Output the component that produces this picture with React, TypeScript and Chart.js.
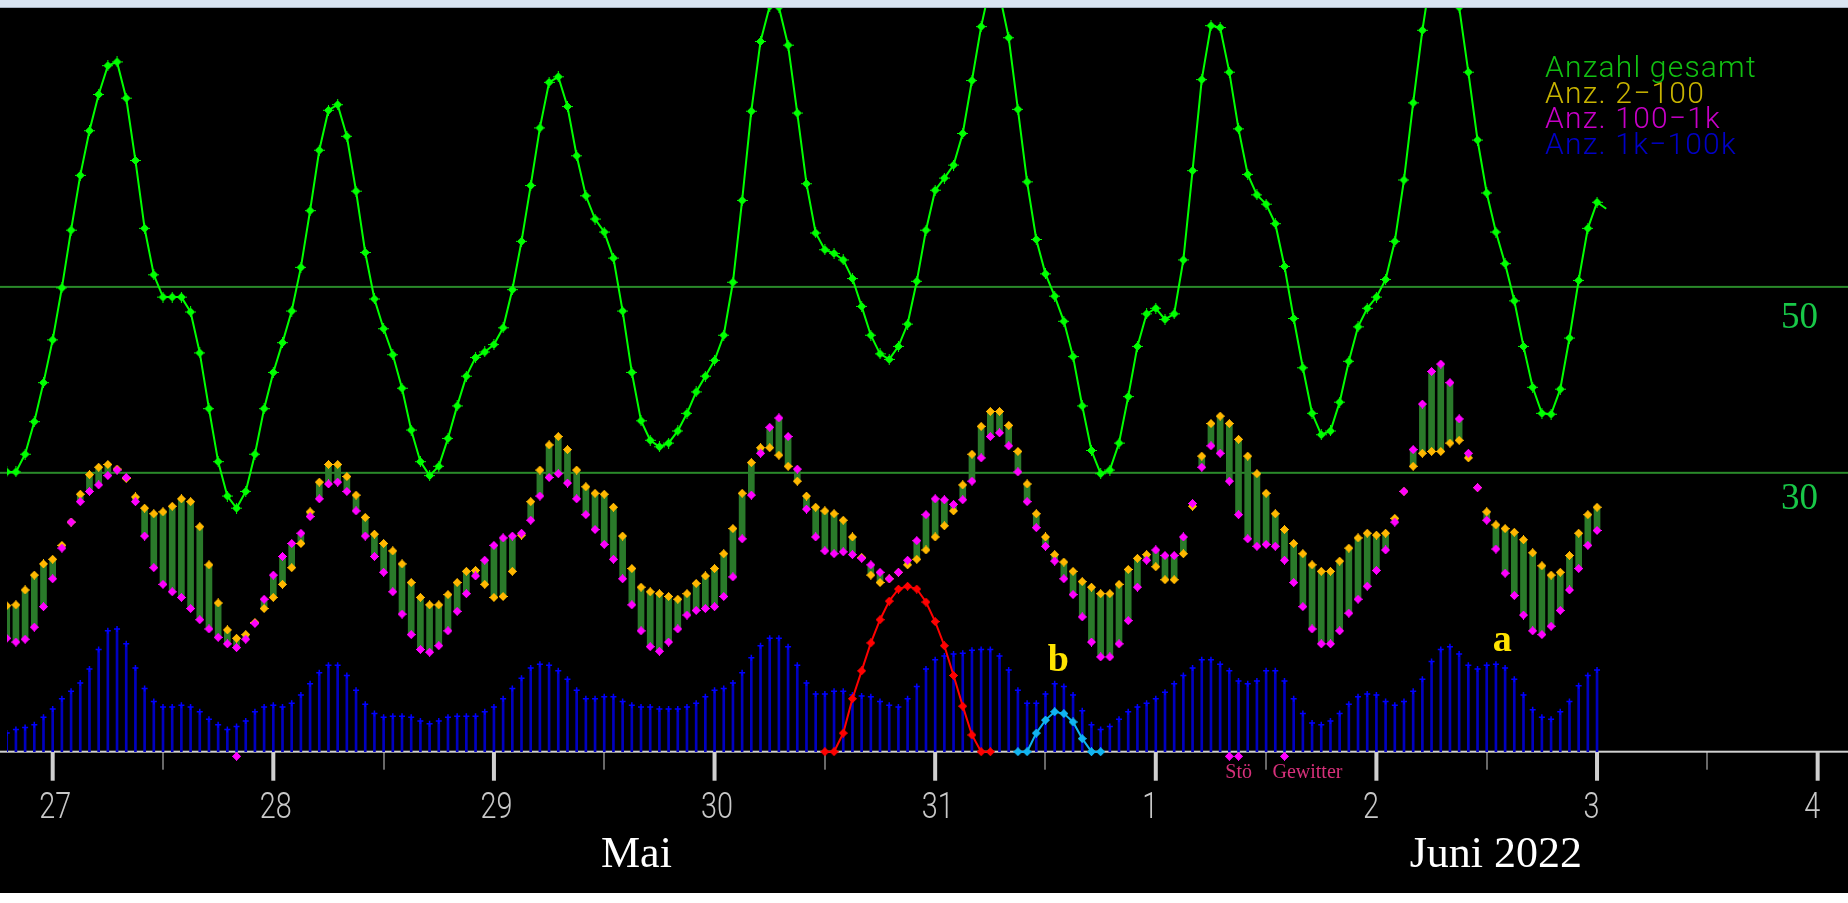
import React, { useEffect, useRef } from 'react';
import { Chart, registerables } from 'chart.js';

Chart.register(...registerables);

// ---------------- data (hourly, hour 0 = 27 May 00:00) ----------------
const FIRST_HOUR = -5;

const gesamt = [
  30.1, 30.1, 32.0, 35.5, 39.7,
  // 27 May
  44.3, 49.9, 56.1, 62.0, 66.8, 70.7, 73.8, 74.2, 70.3, 63.6, 56.3, 51.3,
  48.9, 48.9, 48.9, 47.3, 42.9, 36.9, 31.2, 27.5, 26.2, 28.0, 32.0, 36.9,
  // 28 May
  40.8, 44.0, 47.4, 52.1, 58.2, 64.7, 69.0, 69.6, 66.2, 60.3, 53.7, 48.7,
  45.5, 42.7, 39.1, 34.6, 31.2, 29.7, 30.7, 33.7, 37.2, 40.4, 42.4, 43.0,
  // 29 May
  43.8, 45.6, 49.7, 54.9, 60.9, 67.1, 72.0, 72.6, 69.4, 64.1, 59.8, 57.3,
  55.9, 53.1, 47.4, 40.8, 35.6, 33.5, 32.8, 33.2, 34.5, 36.4, 38.7, 40.4,
  // 30 May
  42.1, 44.8, 50.5, 59.3, 68.9, 76.4, 80.2, 80.1, 76.0, 68.7, 61.1, 55.8,
  54.0, 53.6, 52.9, 50.9, 47.9, 44.8, 42.8, 42.2, 43.6, 46.0, 50.6, 56.1,
  // 31 May
  60.4, 61.7, 63.1, 66.5, 72.2, 78.0, 82.5, 81.5, 76.8, 69.1, 61.3, 55.1,
  51.4, 49.0, 46.3, 42.5, 37.2, 32.4, 29.9, 30.3, 33.2, 38.2, 43.6, 47.1,
  // 1 June
  47.7, 46.5, 47.1, 52.9, 62.5, 72.3, 78.1, 77.9, 73.1, 67.0, 62.1, 59.9,
  58.9, 56.8, 52.2, 46.6, 41.3, 36.4, 34.1, 34.5, 37.6, 42.0, 45.7, 47.7,
  // 2 June
  48.9, 50.8, 54.9, 61.5, 69.8, 77.6, 84.0, 86.0, 83.0, 80.1, 73.1, 65.8,
  60.1, 55.9, 52.5, 48.5, 43.6, 39.2, 36.4, 36.3, 39.0, 44.5, 50.7, 56.3,
  // 3 June
  59.1, 58.4,
];

const anz2_100 = [
  15.7, 15.8, 17.4, 19.0, 20.2,
  20.7, 22.2, 24.7, 27.7, 29.8, 30.6, 30.9, 30.4, 29.4, 27.4, 26.2, 25.6,
  25.8, 26.4, 27.2, 26.9, 24.2, 20.1, 16.0, 13.1, 12.2, 12.6, 13.9, 15.4,
  16.6, 18.0, 19.8, 22.4, 25.8, 29.0, 30.9, 30.9, 29.6, 27.6, 25.2, 23.4,
  22.4, 21.6, 20.2, 18.2, 16.6, 15.8, 15.8, 16.9, 18.2, 19.4, 19.5, 18.0,
  16.6, 16.7, 19.4, 23.3, 26.9, 30.3, 33.0, 33.9, 32.5, 30.3, 28.5, 27.8,
  27.7, 26.3, 23.2, 19.7, 17.7, 17.2, 17.0, 16.7, 16.4, 17.0, 18.1, 18.9,
  19.7, 21.3, 24.0, 27.8, 31.1, 32.7, 32.7, 31.9, 30.7, 29.1, 27.5, 26.3,
  25.9, 25.6, 24.9, 23.1, 20.9, 19.0, 18.2, 18.6, 19.3, 20.1, 20.7, 21.7,
  23.1, 24.3, 25.9, 28.7, 32.0, 35.0, 36.6, 36.6, 35.1, 32.3, 28.8, 25.6,
  23.1, 21.2, 20.4, 19.4, 18.3, 17.7, 17.0, 17.0, 18.0, 19.6, 20.8, 21.2,
  19.9, 18.5, 18.5, 21.3, 26.4, 31.8, 35.3, 36.1, 35.3, 33.6, 31.8, 29.9,
  27.8, 25.6, 23.9, 22.4, 21.3, 20.1, 19.4, 19.4, 20.5, 21.9, 23.0, 23.5,
  23.3, 23.5, 25.1, 28.0, 30.7, 32.1, 32.3, 32.3, 33.2, 33.5, 31.6, 28.4,
  25.8, 24.4, 24.0, 23.6, 22.8, 21.4, 20.0, 19.0, 19.3, 21.1, 23.5, 25.5,
  26.3,
];

const anz100_1k = [
  12.2, 11.8, 12.1, 13.4, 15.6,
  18.6, 21.9, 24.7, 26.9, 28.0, 28.7, 29.7, 30.3, 29.5, 26.9, 23.2, 19.8,
  18.0, 17.2, 16.6, 15.4, 14.2, 13.2, 12.3, 11.6, 11.2, 12.1, 13.8, 16.4,
  19.0, 21.0, 22.4, 23.5, 25.3, 27.2, 28.8, 29.0, 28.0, 25.9, 23.2, 21.0,
  19.3, 17.2, 14.8, 12.6, 11.0, 10.7, 11.4, 13.0, 15.1, 17.0, 18.9, 20.6,
  22.2, 23.0, 23.2, 23.5, 24.9, 27.5, 29.5, 29.9, 28.9, 27.2, 25.5, 23.9,
  22.3, 20.7, 18.6, 15.8, 13.0, 11.3, 10.8, 11.8, 13.2, 14.7, 15.2, 15.4,
  15.6, 16.7, 18.8, 22.9, 27.6, 32.1, 34.9, 35.9, 33.9, 30.4, 26.1, 23.1,
  21.6, 21.3, 21.5, 21.2, 20.8, 20.1, 19.3, 18.6, 19.3, 20.6, 22.7, 25.5,
  27.2, 27.1, 26.6, 27.1, 29.1, 31.6, 33.9, 34.3, 32.9, 30.1, 26.9, 24.1,
  22.1, 20.5, 18.6, 16.9, 14.5, 11.8, 10.2, 10.2, 11.6, 14.1, 17.7, 20.6,
  21.7, 21.1, 21.1, 23.1, 26.7, 30.6, 32.9, 32.1, 29.1, 25.5, 22.9, 22.1,
  22.3, 22.1, 20.6, 18.2, 15.6, 13.2, 11.6, 11.6, 13.0, 14.9, 16.4, 17.8,
  19.5, 21.7, 24.7, 28.0, 32.5, 37.4, 40.9, 41.7, 39.7, 35.8, 32.1, 28.4,
  24.9, 21.8, 19.2, 16.8, 14.7, 13.0, 12.6, 13.5, 15.2, 17.4, 19.7, 22.2,
  23.8,
];

const anz1k_100k = [
  2.0, 2.4, 2.6, 2.9, 3.7,
  4.6, 5.7, 6.5, 7.4, 8.9, 11.0, 13.0, 13.2, 11.6, 9.0, 6.8, 5.4,
  4.8, 4.8, 5.0, 4.8, 4.3, 3.5, 2.9, 2.4, 2.7, 3.3, 4.3, 4.8,
  5.0, 4.8, 5.2, 6.1, 7.3, 8.5, 9.3, 9.3, 8.2, 6.6, 5.1, 4.1,
  3.7, 3.8, 3.8, 3.7, 3.3, 3.0, 3.3, 3.7, 3.8, 3.8, 3.8, 4.3,
  4.8, 5.7, 6.8, 7.9, 9.0, 9.4, 9.3, 8.7, 7.8, 6.6, 5.7, 5.7,
  5.9, 5.9, 5.4, 5.0, 4.8, 4.8, 4.6, 4.6, 4.6, 4.8, 5.2, 5.9,
  6.6, 6.8, 7.4, 8.5, 10.1, 11.4, 12.2, 12.2, 11.3, 9.3, 7.4, 6.2,
  6.2, 6.5, 6.5, 6.1, 6.0, 5.9, 5.4, 5.0, 4.8, 5.7, 7.0, 8.9,
  9.9, 10.3, 10.5, 10.6, 10.9, 11.0, 11.0, 10.3, 8.8, 6.6, 5.2, 5.2,
  6.2, 7.3, 7.0, 6.1, 4.4, 2.9, 2.4, 2.7, 3.5, 4.3, 4.8, 5.2,
  5.7, 6.4, 7.3, 8.2, 9.0, 9.9, 9.9, 9.4, 8.7, 7.6, 7.3, 7.6,
  8.7, 8.7, 7.6, 5.7, 4.1, 3.1, 2.9, 3.3, 4.1, 5.1, 5.9, 6.2,
  6.1, 5.4, 5.0, 5.4, 6.5, 7.8, 9.7, 11.0, 11.3, 10.5, 9.3, 8.9,
  9.3, 9.4, 9.0, 7.8, 6.1, 4.5, 3.7, 3.5, 4.3, 5.4, 7.1, 8.2,
  8.8,
];

const RED_START = 84;
const redSeries = [0, 0, 2.0, 5.7, 8.7, 11.7, 14.2, 16.2, 17.5, 17.8, 17.5, 16.1, 14.0, 11.4, 8.2, 4.9, 1.8, 0, 0];

const CYAN_START = 105;
const cyanSeries = [0, 0, 2.0, 3.4, 4.3, 4.1, 3.2, 1.4, 0, 0];

const stoerHours = [20, 128, 129, 134];
const STOER_LEVEL = -0.5;

const dayLabels = ['27', '28', '29', '30', '31', '1', '2', '3', '4'];
const monthLabels = [
  { text: 'Mai', hour: 63.5 },
  { text: 'Juni 2022', hour: 157 },
];
const refLines = [50, 30];
const letterNotes = [
  { text: 'b', hour: 109.4, value: 8.7 },
  { text: 'a', hour: 157.7, value: 10.8 },
];
const legendItems = [
  { text: 'Anzahl gesamt', color: '#12c012' },
  { text: 'Anz. 2\u2212100', color: '#c8b400' },
  { text: 'Anz. 100\u22121k', color: '#c800c8' },
  { text: 'Anz. 1k\u2212100k', color: '#0000c8' },
];

// --------------- helpers ---------------
function makeMarker(color: string, size: number): HTMLCanvasElement {
  const c = document.createElement('canvas');
  c.width = size;
  c.height = size;
  const g = c.getContext('2d')!;
  g.fillStyle = color;
  const m = Math.floor(size / 2);
  g.fillRect(m, 0, 1, size);
  g.fillRect(0, m, size, 1);
  g.fillRect(m - 2, m - 2, 5, 5);
  g.fillRect(m - 1, m - 3, 3, 7);
  g.fillRect(m - 3, m - 1, 7, 3);
  return c;
}

const toPoints = (arr: number[], start: number) => arr.map((v, i) => ({ x: start + i, y: v }));

const backdropPlugin = {
  id: 'backdrop',
  beforeDraw(chart: any) {
    const { ctx, width, height, chartArea } = chart;
    ctx.save();
    ctx.fillStyle = '#ffffff';
    ctx.fillRect(0, 0, width, height);
    ctx.fillStyle = '#d9e4f1';
    ctx.fillRect(0, 0, width, chartArea.top - 1);
    ctx.fillStyle = '#a4afbd';
    ctx.fillRect(0, chartArea.top - 1, width, 1);
    ctx.fillStyle = '#000000';
    ctx.fillRect(0, chartArea.top, width, chartArea.bottom - chartArea.top);
    ctx.restore();
  },
  beforeDatasetsDraw(chart: any) {
    const { ctx, width } = chart;
    const xs = chart.scales.x;
    const ys = chart.scales.y;
    ctx.save();
    // reference lines
    ctx.fillStyle = '#2a8a2a';
    refLines.forEach((v) => {
      const py = ys.getPixelForValue(v);
      ctx.fillRect(0, py - 1, width, 2);
    });
    // time axis
    const y0 = ys.getPixelForValue(0);
    ctx.fillStyle = '#d0d0d0';
    ctx.fillRect(0, y0 - 1, width, 2);
    // minor ticks at noon
    for (let d = -1; d < dayLabels.length; d++) {
      const px = xs.getPixelForValue(d * 24 + 12);
      ctx.fillRect(Math.round(px) - 0.5, y0, 1, 18);
    }
    // major ticks + day labels
    ctx.font = '300 36px Roboto, "Liberation Sans", sans-serif';
    ctx.textAlign = 'left';
    ctx.textBaseline = 'alphabetic';
    dayLabels.forEach((lab, d) => {
      const px = xs.getPixelForValue(d * 24);
      ctx.fillStyle = '#d0d0d0';
      ctx.fillRect(px - 2, y0, 4, 29);
      ctx.fillStyle = '#c8c8c8';
      ctx.save();
      ctx.translate(px - 13.5, y0 + 66);
      ctx.scale(0.8, 1);
      ctx.fillText(lab, 0, 0);
      ctx.restore();
    });
    ctx.restore();
  },
  afterDraw(chart: any) {
    const { ctx } = chart;
    const xs = chart.scales.x;
    const ys = chart.scales.y;
    const y0 = ys.getPixelForValue(0);
    ctx.save();
    ctx.textBaseline = 'alphabetic';
    // legend
    ctx.textAlign = 'left';
    ctx.font = '300 30px Roboto, "Liberation Sans", sans-serif';
    (ctx as any).letterSpacing = '1.2px';
    legendItems.forEach((it, i) => {
      ctx.fillStyle = it.color;
      ctx.fillText(it.text, 1545, 77 + i * 25.7);
    });
    (ctx as any).letterSpacing = '0px';
    // reference line values
    ctx.font = '37px "Liberation Serif", serif';
    ctx.fillStyle = '#18c848';
    refLines.forEach((v) => {
      const py = ys.getPixelForValue(v);
      ctx.fillText(String(v), 1781, py + (v === 50 ? 41 : 36));
    });
    // letter notes
    ctx.font = 'bold 38px "Liberation Serif", serif';
    ctx.fillStyle = '#ffe400';
    ctx.textAlign = 'center';
    letterNotes.forEach((n) => {
      ctx.fillText(n.text, xs.getPixelForValue(n.hour), ys.getPixelForValue(n.value));
    });
    // Stö / Gewitter
    ctx.textAlign = 'left';
    ctx.font = '20px "Liberation Serif", serif';
    ctx.fillStyle = '#d6307a';
    ctx.fillText('St\u00f6', xs.getPixelForValue(stoerHours[1]) - 4, y0 + 26);
    ctx.fillText('Gewitter', xs.getPixelForValue(stoerHours[3]) - 12, y0 + 26);
    // month labels
    ctx.textAlign = 'center';
    ctx.font = '44px "Liberation Serif", serif';
    ctx.fillStyle = '#ffffff';
    monthLabels.forEach((m) => {
      ctx.fillText(m.text, xs.getPixelForValue(m.hour), y0 + 115);
    });
    ctx.restore();
  },
};

export default function App() {
  const ref = useRef<HTMLCanvasElement | null>(null);

  useEffect(() => {
    const canvas = ref.current;
    if (!canvas) return;

    const greenMarker = makeMarker('#00ff00', 11);
    const yellowMarker = makeMarker('#ffb800', 9);
    const magentaMarker = makeMarker('#ff00ff', 9);
    const redMarker = makeMarker('#ff0000', 9);
    const cyanMarker = makeMarker('#10b4f0', 9);

    const stems = anz1k_100k.map((v, i) => ({ x: FIRST_HOUR + i, y: [0, v] }));
    const ranges = anz2_100.map((v, i) => ({ x: FIRST_HOUR + i, y: [v, anz100_1k[i]] }));
    const lastG = gesamt.length - 1;

    const chart = new Chart(canvas, {
      type: 'bar',
      data: {
        datasets: [
          {
            type: 'bar',
            label: 'Anz. 1k-100k (Säulen)',
            data: stems as any,
            backgroundColor: '#0000c0',
            barThickness: 2,
            grouped: false,
            order: 10,
          } as any,
          {
            type: 'line',
            label: 'Anz. 1k-100k',
            data: toPoints(anz1k_100k, FIRST_HOUR),
            showLine: false,
            pointStyle: 'cross',
            pointRadius: 3,
            pointBorderWidth: 1.5,
            borderColor: '#0000ff',
            backgroundColor: '#0000ff',
            order: 9,
          },
          {
            type: 'bar',
            label: 'Spanne',
            data: ranges as any,
            backgroundColor: '#2a7a2a',
            barThickness: 6,
            grouped: false,
            order: 8,
          } as any,
          {
            type: 'line',
            label: 'Anz. 2-100',
            data: toPoints(anz2_100, FIRST_HOUR),
            showLine: false,
            pointStyle: yellowMarker as any,
            pointRadius: 4,
            order: 7,
          },
          {
            type: 'line',
            label: 'Anz. 100-1k',
            data: toPoints(anz100_1k, FIRST_HOUR),
            showLine: false,
            pointStyle: magentaMarker as any,
            pointRadius: 4,
            order: 6,
          },
          {
            type: 'line',
            label: 'a',
            data: toPoints(redSeries, RED_START),
            borderColor: '#ff0000',
            borderWidth: 2,
            tension: 0,
            pointStyle: redMarker as any,
            pointRadius: 4,
            order: 5,
          },
          {
            type: 'line',
            label: 'b',
            data: toPoints(cyanSeries, CYAN_START),
            borderColor: '#10b4f0',
            borderWidth: 2,
            tension: 0,
            pointStyle: cyanMarker as any,
            pointRadius: 4,
            order: 5,
          },
          {
            type: 'line',
            label: 'Stö',
            data: stoerHours.map((h) => ({ x: h, y: STOER_LEVEL })),
            showLine: false,
            pointStyle: magentaMarker as any,
            pointRadius: 4,
            order: 4,
          },
          {
            type: 'line',
            label: 'Anzahl gesamt',
            data: toPoints(gesamt, FIRST_HOUR),
            borderColor: '#00ff00',
            borderWidth: 2,
            tension: 0,
            pointStyle: greenMarker as any,
            pointRadius: (c: any) => (c.dataIndex === lastG ? 0 : 5),
            order: 3,
          },
        ],
      },
      options: {
        animation: false,
        responsive: false,
        events: [],
        layout: { padding: { top: 8, bottom: 10, left: 0, right: 0 } },
        scales: {
          x: { type: 'linear', min: -4.97, max: 194.54, display: false, offset: false },
          y: { type: 'linear', min: -15.2, max: 80, display: false },
        },
        plugins: {
          legend: { display: false },
          tooltip: { enabled: false },
        },
      },
      plugins: [backdropPlugin],
    });

    return () => chart.destroy();
  }, []);

  return (
    <div style={{ position: 'fixed', left: 0, top: 0, width: 1848, height: 903 }}>
      <canvas ref={ref} width={1848} height={903} style={{ display: 'block', width: 1848, height: 903 }} />
    </div>
  );
}
